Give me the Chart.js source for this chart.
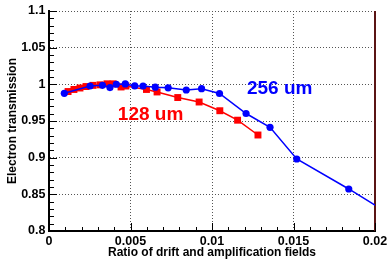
<!DOCTYPE html>
<html><head><meta charset="utf-8">
<script src="https://cdn.jsdelivr.net/npm/chart.js@4/dist/chart.umd.min.js"></script>
<style>html,body{margin:0;padding:0;background:#fff;}#wrap{width:391px;height:260px;position:relative;}</style>
</head><body><div id="wrap"><canvas id="c" width="391" height="260"></canvas></div>
<script>
const xTickValues = [0, 0.005, 0.01, 0.015, 0.02];
const xTickLabels = ['0', '0.005', '0.01', '0.015', '0.02'];
const yTickValues = [0.8, 0.85, 0.9, 0.95, 1, 1.05, 1.1];
const yTickLabels = ['0.8', '0.85', '0.9', '0.95', '1', '1.05', '1.1'];

const ratio256 = [0.00094, 0.00252, 0.00328, 0.00374, 0.00413, 0.00468, 0.00526, 0.00577, 0.00652, 0.00731, 0.00842, 0.00936, 0.01046, 0.01209, 0.01356, 0.0152, 0.01839, 0.0215];
const trans256 = [0.9878, 0.9977, 0.9986, 0.9956, 1.0001, 1.0005, 0.9978, 0.9977, 0.9961, 0.9953, 0.9923, 0.9941, 0.9875, 0.9602, 0.9414, 0.8982, 0.8573, 0.815];
const ratio128 = [0.00117, 0.00153, 0.0019, 0.00227, 0.0027, 0.00313, 0.00356, 0.00393, 0.00442, 0.00472, 0.00598, 0.00663, 0.0079, 0.00921, 0.01048, 0.01157, 0.01282];
const trans128 = [0.9902, 0.993, 0.995, 0.997, 0.9986, 0.9993, 1.0007, 1.0007, 0.9964, 0.9977, 0.993, 0.9896, 0.982, 0.9759, 0.964, 0.9511, 0.9309];

const seriesNames = ['256 um', '128 um'];
const seriesColors = ['#0000ff', '#ff0000'];
const labelX = [0.01415, 0.00623];
const labelY = [0.9936, 0.9582];

const FONT = '"Liberation Sans", Arial, Helvetica, sans-serif';

const toPts = (xs, ys) => xs.map((x, i) => ({x: x, y: ys[i]}));

const frameAndTicks = {
  id: 'frameAndTicks',
  beforeDatasetsDraw(chart) {
    const {ctx, chartArea: a} = chart;
    ctx.save();
    ctx.strokeStyle = '#5a1414';
    ctx.lineWidth = 2;
    ctx.beginPath();
    ctx.moveTo(a.right, a.top);
    ctx.lineTo(a.right, a.bottom);
    ctx.stroke();
    ctx.restore();
  },
  afterDatasetsDraw(chart) {
    const {ctx, chartArea: a, scales: {x, y}} = chart;
    ctx.save();
    ctx.strokeStyle = '#000';
    ctx.lineWidth = 1;
    ctx.beginPath();
    for (let i = 0; i <= 20; i++) {
      const v = i * 0.001;
      const px = Math.round(x.getPixelForValue(v)) + 0.5;
      const len = (i % 5 === 0) ? 8 : 4;
      ctx.moveTo(px, a.bottom);
      ctx.lineTo(px, a.bottom - len);
    }
    for (let i = 0; i <= 30; i++) {
      const v = 0.8 + i * 0.01;
      const py = Math.round(y.getPixelForValue(v)) + 0.5;
      const len = (i % 5 === 0) ? 8 : 5;
      ctx.moveTo(a.left, py);
      ctx.lineTo(a.left + len, py);
    }
    ctx.stroke();
    ctx.font = 'bold 19px ' + FONT;
    ctx.textAlign = 'center';
    ctx.textBaseline = 'middle';
    for (let i = 0; i < seriesNames.length; i++) {
      ctx.fillStyle = seriesColors[i];
      ctx.fillText(seriesNames[i], x.getPixelForValue(labelX[i]), y.getPixelForValue(labelY[i]));
    }
    ctx.restore();
  }
};

new Chart(document.getElementById('c'), {
  type: 'scatter',
  data: {
    datasets: [
      {
        label: seriesNames[0],
        data: toPts(ratio256, trans256),
        showLine: true,
        borderColor: seriesColors[0],
        backgroundColor: seriesColors[0],
        borderWidth: 1.5,
        pointStyle: 'circle',
        pointRadius: 3.6,
        pointBorderWidth: 0
      },
      {
        label: seriesNames[1],
        data: toPts(ratio128, trans128),
        showLine: true,
        borderColor: seriesColors[1],
        backgroundColor: seriesColors[1],
        borderWidth: 1.5,
        pointStyle: 'rect',
        pointRadius: 4.9,
        pointBorderWidth: 0
      }
    ]
  },
  options: {
    responsive: false,
    animation: false,
    devicePixelRatio: 1,
    layout: {padding: {top: 10.5, right: 16, left: 0, bottom: 0}},
    plugins: {legend: {display: false}, tooltip: {enabled: false}},
    scales: {
      x: {
        type: 'linear', min: 0, max: 0.02,
        afterBuildTicks: s => { s.ticks = xTickValues.map(v => ({value: v})); },
        afterFit: s => { s.height = 29; },
        ticks: {
          callback: (v, i) => xTickLabels[i],
          font: {family: FONT, size: 12.5, weight: 'bold'},
          color: '#000', padding: 3, maxRotation: 0, autoSkip: false
        },
        grid: {color: '#555', lineWidth: 1, drawTicks: false},
        border: {display: true, color: '#000', width: 2, dash: [1, 2]},
        title: {
          display: true, text: 'Ratio of drift and amplification fields',
          font: {family: FONT, size: 12, weight: 'bold'}, color: '#000',
          padding: {top: 0, bottom: 0}
        }
      },
      y: {
        type: 'linear', min: 0.8, max: 1.1,
        afterBuildTicks: s => { s.ticks = yTickValues.map(v => ({value: v})); },
        afterFit: s => { s.width = 49; },
        ticks: {
          callback: (v, i) => yTickLabels[i],
          font: {family: FONT, size: 12.5, weight: 'bold'},
          color: '#000', padding: 3.5, autoSkip: false
        },
        grid: {color: '#555', lineWidth: 1, drawTicks: false},
        border: {display: true, color: '#000', width: 2, dash: [1, 2]},
        title: {
          display: true, text: 'Electron transmission',
          font: {family: FONT, size: 12, weight: 'bold'}, color: '#000',
          padding: {top: 5.5, bottom: 0}
        }
      }
    }
  },
  plugins: [frameAndTicks]
});
</script>
</body></html>
